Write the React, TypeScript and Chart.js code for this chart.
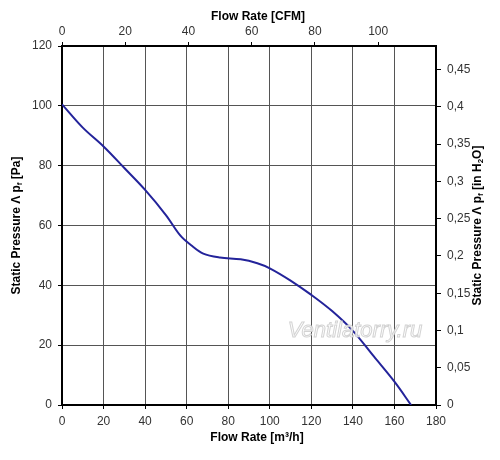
import React, { useEffect, useRef } from "react";
import { Chart, registerables } from "chart.js";

Chart.register(...registerables);

// fan curve
const flowM3h = [0, 10, 20, 30, 40, 50, 57, 62, 68, 76, 86, 94, 100, 110, 120, 130, 140, 150, 160, 168];
const pressurePa = [100.5, 92.7, 86.4, 79.2, 71.9, 63.5, 56.6, 53.5, 50.6, 49.3, 48.7, 47.4, 45.7, 41.6, 36.8, 31.4, 24.8, 16.3, 7.8, 0];

const flowMax = 180;
const cfmMax = 118.3;
const paMax = 120;
const inH2OMax = 120 / 249.09;

type Part = { text: string; sub?: boolean };

const leftTitle: Part[] = [{ text: "Static Pressure Λ p" }, { text: "f", sub: true }, { text: " [Pa]" }];
const rightTitle: Part[] = [
    { text: "Static Pressure Λ p" },
    { text: "f", sub: true },
    { text: " [in H" },
    { text: "2", sub: true },
    { text: "O]" },
];

const FONT = "'Liberation Sans', Arial, sans-serif";

function drawParts(ctx: CanvasRenderingContext2D, parts: Part[], x: number, y: number, rot: number) {
    ctx.save();
    ctx.translate(x, y);
    ctx.rotate(rot);
    ctx.textBaseline = "middle";
    ctx.textAlign = "left";
    ctx.fillStyle = "#000";
    const big = "bold 12px " + FONT;
    const small = "bold 8px " + FONT;
    let total = 0;
    for (const p of parts) {
        ctx.font = p.sub ? small : big;
        total += ctx.measureText(p.text).width;
    }
    let cx = -total / 2;
    for (const p of parts) {
        ctx.font = p.sub ? small : big;
        ctx.fillText(p.text, cx, p.sub ? 3 : 0);
        cx += ctx.measureText(p.text).width;
    }
    ctx.restore();
}

const titlesPlugin = {
    id: "titles",
    afterDraw(chart: Chart) {
        const ctx = chart.ctx;
        const a = chart.chartArea;
        const mid = (a.top + a.bottom) / 2;
        drawParts(ctx, [{ text: "Flow Rate [CFM]" }], 258, 17, 0);
        drawParts(ctx, [{ text: "Flow Rate [m³/h]" }], 257, 438, 0);
        drawParts(ctx, leftTitle, 17, mid, -Math.PI / 2);
        drawParts(ctx, rightTitle, 478, mid, -Math.PI / 2);

        // watermark
        ctx.save();
        ctx.font = "italic 22px " + FONT;
        ctx.textAlign = "center";
        ctx.textBaseline = "middle";
        ctx.fillStyle = "rgba(255,255,255,0.85)";
        ctx.strokeStyle = "rgba(200,200,200,0.8)";
        ctx.lineWidth = 1;
        ctx.fillText("Ventilatorry.ru", 355, 331);
        ctx.strokeText("Ventilatorry.ru", 355, 331);
        ctx.restore();
    },
};

const fmtComma = (v: number) => String(parseFloat(v.toFixed(2))).replace(".", ",");

const keepSteps = (step: number) => (scale: any) => {
    scale.ticks = scale.ticks.filter((t: any) => {
        const r = t.value / step;
        return Math.abs(r - Math.round(r)) < 1e-6;
    });
};

export default function App() {
    const canvasRef = useRef<HTMLCanvasElement | null>(null);
    const chartRef = useRef<Chart | null>(null);

    useEffect(() => {
        if (!canvasRef.current) return;
        if (chartRef.current) chartRef.current.destroy();

        const tickFont = { family: FONT, size: 12 };
        const tickColor = "#333";
        const gridColor = "#555";
        const border = { display: true, color: "#000", width: 2 };

        chartRef.current = new Chart(canvasRef.current, {
            type: "line",
            data: {
                datasets: [
                    {
                        label: "Static pressure",
                        data: flowM3h.map((x, i) => ({ x, y: pressurePa[i] })),
                        borderColor: "#23239a",
                        borderWidth: 2,
                        pointRadius: 0,
                        tension: 0.35,
                        xAxisID: "x",
                        yAxisID: "y",
                    },
                ],
            },
            plugins: [titlesPlugin],
            options: {
                animation: false,
                responsive: false,
                devicePixelRatio: 1,
                layout: { padding: 0 },
                plugins: {
                    legend: { display: false },
                    tooltip: { enabled: false },
                },
                scales: {
                    x: {
                        type: "linear",
                        position: "bottom",
                        min: 0,
                        max: flowMax,
                        ticks: { stepSize: 20, font: tickFont, color: tickColor, padding: 5, maxRotation: 0 },
                        grid: { color: gridColor, lineWidth: 1, tickLength: 4, tickColor: "#000" },
                        border,
                        afterFit: (s: any) => { s.height = 55; },
                    },
                    x2: {
                        type: "linear",
                        position: "top",
                        min: 0,
                        max: cfmMax,
                        ticks: { stepSize: 20, font: tickFont, color: tickColor, padding: 3, maxRotation: 0 },
                        grid: { drawOnChartArea: false, tickLength: 4, tickColor: "#000" },
                        border,
                        afterBuildTicks: keepSteps(20),
                        afterFit: (s: any) => { s.height = 46; },
                    },
                    y: {
                        type: "linear",
                        position: "left",
                        min: 0,
                        max: paMax,
                        ticks: { stepSize: 20, font: tickFont, color: tickColor, padding: 6 },
                        grid: { color: gridColor, lineWidth: 1, tickLength: 4, tickColor: "#000" },
                        border,
                        afterFit: (s: any) => { s.width = 62; },
                    },
                    y2: {
                        type: "linear",
                        position: "right",
                        min: 0,
                        max: inH2OMax,
                        ticks: {
                            stepSize: 0.05,
                            font: tickFont,
                            color: tickColor,
                            padding: 6,
                            callback: (v: any) => fmtComma(Number(v)),
                        },
                        grid: { drawOnChartArea: false, tickLength: 5, tickColor: "#000" },
                        border,
                        afterBuildTicks: keepSteps(0.05),
                        afterFit: (s: any) => { s.width = 64; },
                    },
                },
            },
        } as any);

        return () => {
            chartRef.current?.destroy();
            chartRef.current = null;
        };
    }, []);

    return (
        <div style={{ position: "absolute", left: 0, top: 0, width: 500, height: 460, background: "#fff" }}>
            <canvas ref={canvasRef} width={500} height={460} style={{ width: 500, height: 460 }}></canvas>
        </div>
    );
}
